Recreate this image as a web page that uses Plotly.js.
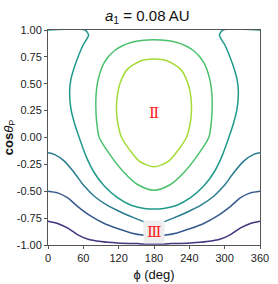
<!DOCTYPE html>
<html>
<head>
<meta charset="utf-8">
<script src="https://cdn.plot.ly/plotly-3.0.1.min.js"></script>
<style>html,body{margin:0;padding:0;background:#fff}#chart{width:278px;height:284px}</style>
</head>
<body>
<div id="chart"></div>
<script>
// Contour lines: phi (deg) and cos(theta_P)
const outerPhi = [0, 63, 69, 59, 47.5, 39, 36.7, 39, 44.7, 53, 64.5, 78.6, 95.6, 118, 141, 163.5, 180, 196.5, 219, 242, 264.4, 281.4, 295.5, 307, 315.3, 321, 323.3, 321, 312.5, 301, 291, 297, 360];
const outerCos = [1.0, 1.0, 0.953, 0.854, 0.698, 0.543, 0.418, 0.263, 0.138, 0.0, -0.173, -0.328, -0.452, -0.56, -0.63, -0.66, -0.665, -0.66, -0.63, -0.56, -0.452, -0.328, -0.173, 0.0, 0.138, 0.263, 0.418, 0.543, 0.698, 0.854, 0.953, 1.0, 1.0];

const loop2Phi = [180, 141, 112.6, 95.6, 85.4, 81.5, 81.5, 84.2, 87, 107, 129.6, 152, 180, 208, 230.4, 253, 273, 275.8, 278.5, 278.5, 274.6, 264.4, 247.4, 219, 180];
const loop2Cos = [0.91, 0.884, 0.807, 0.698, 0.543, 0.387, 0.231, 0.076, 0.0, -0.173, -0.328, -0.437, -0.49, -0.437, -0.328, -0.173, 0.0, 0.076, 0.231, 0.387, 0.543, 0.698, 0.807, 0.884, 0.91];

const loop1Phi = [180, 158, 135, 122.8, 117, 116.5, 119.4, 125, 138, 155, 180, 205, 222, 235, 240.6, 243.5, 243, 237.2, 225, 202, 180];
const loop1Cos = [0.73, 0.714, 0.636, 0.511, 0.356, 0.231, 0.107, 0.0, -0.11, -0.22, -0.272, -0.22, -0.11, 0.0, 0.107, 0.231, 0.356, 0.511, 0.636, 0.714, 0.73];

const line3Phi = [0, 10.7, 27.7, 44.7, 61.6, 78.6, 101, 124, 146.5, 169, 180, 191, 213.5, 236, 259, 281.4, 298.4, 315.3, 332.3, 349.3, 360];
const line3Cos = [-0.142, -0.157, -0.22, -0.328, -0.452, -0.546, -0.632, -0.695, -0.748, -0.795, -0.80, -0.795, -0.748, -0.695, -0.632, -0.546, -0.452, -0.328, -0.22, -0.157, -0.142];

const line4Phi = [0, 16.3, 33, 50, 73, 95.6, 118, 141, 163.5, 180, 196.5, 219, 242, 264.4, 287, 310, 327, 343.7, 360];
const line4Cos = [-0.499, -0.515, -0.56, -0.64, -0.732, -0.80, -0.847, -0.888, -0.91, -0.915, -0.91, -0.888, -0.847, -0.80, -0.732, -0.64, -0.56, -0.515, -0.499];

const line5Phi = [0, 16.3, 33, 50, 67, 90, 118, 152, 180, 208, 242, 270, 293, 310, 327, 343.7, 360];
const line5Cos = [-0.779, -0.80, -0.841, -0.903, -0.944, -0.968, -0.981, -0.987, -0.99, -0.987, -0.981, -0.968, -0.944, -0.903, -0.841, -0.80, -0.779];

const xTickVals = [0, 60, 120, 180, 240, 300, 360];
const xTickLabels = ['0', '60', '120', '180', '240', '300', '360'];
const yTickVals = [1, 0.75, 0.5, 0.25, 0, -0.25, -0.5, -0.75, -1];
const yTickLabels = ['1.00', '0.75', '0.50', '0.25', '0.00', '-0.25', '-0.50', '-0.75', '-1.00'];

const regionLabels = ['Ⅱ', 'Ⅲ'];
const regionPhi = [180, 180];
const regionCos = [0.23, -0.88];

function ln(x, y, color, sm) {
  return {x: x, y: y, type: 'scatter', mode: 'lines', hoverinfo: 'skip',
          line: {color: color, width: 1.5, shape: 'spline', smoothing: sm}, showlegend: false};
}

const traces = [
  ln(line5Phi, line5Cos, '#46337e', 0.8),
  ln(line4Phi, line4Cos, '#375b8d', 0.8),
  ln(line3Phi, line3Cos, '#287c8e', 0.8),
  ln(outerPhi, outerCos, '#1f9a8a', 0.6),
  ln(loop2Phi, loop2Cos, '#4ac16d', 0.8),
  ln(loop1Phi, loop1Cos, '#a5db36', 0.8)
];

const axisCommon = {
  showline: true, linecolor: '#555', linewidth: 1, mirror: true,
  ticks: 'outside', ticklen: 3, tickcolor: '#555', showgrid: false, zeroline: false,
  tickfont: {family: 'Liberation Sans, Arial, sans-serif', size: 11, color: '#222'},
  layer: 'below traces', tickmode: 'array'
};

const layout = {
  width: 278, height: 284,
  margin: {l: 48, r: 18, t: 30, b: 39},
  paper_bgcolor: '#fff', plot_bgcolor: '#fff',
  title: {text: '<i>a</i><sub>1</sub> = 0.08 AU', x: 0.53, xanchor: 'center', y: 0.945, yanchor: 'middle',
          font: {family: 'Liberation Sans, Arial, sans-serif', size: 15, color: '#111'}},
  xaxis: Object.assign({}, axisCommon, {range: [0, 360], tickvals: xTickVals, ticktext: xTickLabels,
          title: {text: 'ϕ (deg)', standoff: 6, font: {family: 'Liberation Sans, Arial, sans-serif', size: 13, color: '#111'}}}),
  yaxis: Object.assign({}, axisCommon, {range: [-1, 1], tickvals: yTickVals, ticktext: yTickLabels,
          title: {text: '<b>cos</b><i>θ</i><sub>P</sub>', standoff: 0, font: {family: 'Liberation Sans, Arial, sans-serif', size: 13, color: '#111'}}}),
  annotations: regionLabels.map((t, i) => ({
    x: regionPhi[i], y: regionCos[i], xref: 'x', yref: 'y', text: t, showarrow: false,
    font: {family: 'Liberation Serif, DejaVu Serif, serif', size: 15, color: '#ff2020'},
    bgcolor: i === 1 ? '#eeeeee' : 'rgba(0,0,0,0)', borderpad: 3
  }))
};

Plotly.newPlot('chart', traces, layout, {displayModeBar: false, staticPlot: true});
</script>
</body>
</html>
